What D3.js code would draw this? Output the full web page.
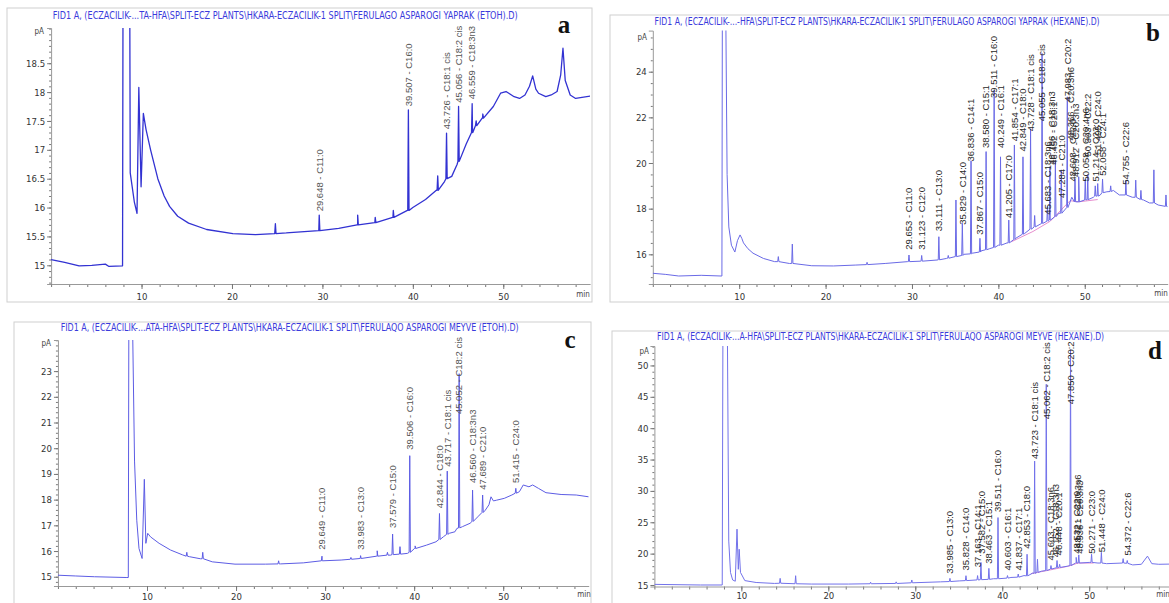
<!DOCTYPE html>
<html lang="en">
<head>
<meta charset="UTF-8">
<title>FID1 chromatograms</title>
<script src="https://cdn.jsdelivr.net/npm/d3@7"></script>
<style>
  body { margin: 0; background: #fff; }
  .tick text { font-family: "Liberation Sans Narrow", "DejaVu Sans Condensed", "Liberation Sans", sans-serif; }
</style>
</head>
<body>
<svg width="1169" height="603"></svg>
<script>
// ---- data (time in min, signal in pA) ----
// a: leaf, EtOH
var aTrace = [[0,15.10],[1.5,15.05],[3.1,14.99],[4.5,15.0],[6.0,15.02],[6.4,14.98],[7.9,14.99],
  [7.95,19.5],[8.7,19.5],[8.75,16.6],[9.2,16.1],[9.5,15.9],[9.7,18.08],[9.95,16.36],[10.2,17.63],
  [10.5,17.35],[11.0,17.0],[11.8,16.5],[12.5,16.2],[13.1,16.02],[14.0,15.85],[15.2,15.73],[17.2,15.62],
  [20.1,15.55],[22.6,15.53],[24.7,15.55],[26,15.56],[27.6,15.58],[29.6,15.6],[31.8,15.64],[33.9,15.7],
  [35.8,15.74],[37.8,15.83],[39.4,15.95],[40,16.0],[41.4,16.14],[42.6,16.3],[43.5,16.45],[44.3,16.54],
  [44.9,16.75],[45.9,17.1],[46.6,17.3],[47.7,17.55],[48.9,17.75],[49.7,17.98],[50.3,18.01],[51.2,17.92],
  [51.8,17.89],[52.4,17.95],[52.9,18.1],[53.25,18.28],[53.6,18.05],[53.9,17.98],[54.7,17.92],[55.3,17.95],
  [55.95,18.01],[56.35,18.3],[56.6,18.76],[56.85,18.2],[57.4,17.95],[58.0,17.89],[59.6,17.93]];
var aPeaks = [[24.8,15.55,15.72],[29.648,15.6,15.87],[33.9,15.7,15.87],[35.84,15.74,15.83],[37.84,15.83,15.95],
  [39.507,15.95,17.69],[42.75,16.3,16.55],[43.726,16.5,17.29],[45.056,16.8,17.75],[46.559,17.3,17.8],
  [47.0,17.42,17.5],[47.74,17.55,17.62]];
var aLabels = [[29.648,"29.648 - C11:0",15.9],[39.507,"39.507 - C16:0",17.72],[43.726,"43.726 - C18:1 cis",17.32],
  [45.056,"45.056 - C18:2 cis",17.78],[46.559,"46.559 - C18:3n3",17.84]];

// b: leaf, hexane
var bTrace = [[0,15.17],[1.5,15.12],[3.0,15.05],[5.6,15.08],[7.9,15.05],[8.0,15.05],[8.05,26.5],[8.45,26.5],
  [8.6,19.5],[8.8,17.2],[9.1,16.4],[9.5,16.1],[9.8,16.6],[10.1,16.85],[10.3,16.7],[10.5,16.5],[11.0,16.25],
  [11.6,16.05],[12.8,15.82],[14.1,15.68],[15.8,15.6],[18.4,15.5],[20.9,15.49],[23.5,15.53],[26.9,15.6],
  [29.5,15.68],[31,15.7],[32.9,15.75],[34,15.82],[35,15.9],[36,16.0],[37,16.05],[38,16.15],[39,16.25],
  [40,16.4],[41,16.5],[42,16.7],[43,16.9],[44,17.15],[45,17.35],[46,17.5],[47,17.8],[48,18.1],[48.5,18.5],
  [49.3,18.3],[50.4,18.38],[51,18.5],[51.8,18.6],[52.56,18.74],[53.3,18.8],[54.0,18.6],[54.7,18.6],
  [55.5,18.5],[56.8,18.38],[57.5,18.25],[58.5,18.16],[59.6,18.09]];
var bPeaks = [[14.53,15.68,15.9],[16.15,15.6,16.45],[24.8,15.55,15.65],[29.653,15.68,15.97],[31.123,15.7,15.95],
  [33.111,15.76,16.77],[34.2,15.83,15.95],[35.09,15.9,18.38],[35.829,15.95,17.36],[36.836,16.02,20.1],
  [37.867,16.1,16.7],[38.58,16.2,20.5],[39.511,16.3,23.2],[40.249,16.4,20.27],[41.205,16.5,17.5],
  [41.854,16.65,20.79],[42.849,16.88,20.27],[43.728,17.1,21.5],[44.2,17.2,17.7],[45.055,17.35,24.8],
  [45.683,17.45,18.1],[45.97,17.5,19.84],[46.6,17.65,20.1],[47.284,17.8,19.7],[47.983,18.05,22.9],
  [48.87,18.3,19.3],[49.3,18.3,19.4],[50.058,18.38,19.3],[50.35,18.4,19.5],[51.214,18.55,19.0],
  [51.5,18.55,19.1],[52.058,18.7,19.3],[53.0,18.75,19.0],[54.755,18.6,19.25],[55.9,18.5,19.25],
  [56.5,18.4,18.8],[58.0,18.25,19.7],[59.4,18.1,18.6]];
var bLabels = [[29.653,"29.653 - C11:0",16.11],[31.123,"31.123 - C12:0",16.11],[33.111,"33.111 - C13:0",16.92],
  [35.829,"35.829 - C14:0",17.21],[36.836,"36.836 - C14:1",19.98],[37.867,"37.867 - C15:0",16.77],
  [38.58,"38.580 - C15:1",20.57],[39.511,"39.511 - C16:0",22.76],[40.249,"40.249 - C16:1",20.57],
  [41.205,"41.205 - C17:0",17.5],[41.854,"41.854 - C17:1",20.86],[42.849,"42.849 - C18:0",20.42],
  [43.728,"43.728 - C18:1 cis",21.3],[45.055,"45.055 - C18:2 cis",21.74],[45.683,"45.683 - C18:3n6",17.65],
  [46.186,"46.186 - C18:3n3",19.84],[46.452,"46.452 - C20:1",19.84],[47.284,"47.284 - C21:0",18.38],
  [47.983,"47.983 - C20:2",22.6],[48.366,"48.366 - C20:3n6",20.9],[48.608,"48.608 - C22:0",19.1],
  [48.912,"48.912 - C20:3n3",19.3],[50.058,"50.058 - C20:4n6",19.1],[50.303,"50.303 - C22:2",20.2],
  [51.214,"51.214 - C23:0",19.1],[51.495,"51.495 - C24:0",20.3],[52.058,"52.058 - C24:1",19.35],
  [54.755,"54.755 - C22:6",18.96]];
var bIntegration = [[41.5,16.55],[44,17.0],[46,17.45],[48.3,18.35],[49.3,18.3],[51.5,18.4]];

// c: fruit, EtOH
var cTrace = [[0,15.06],[2,15.03],[4.1,15.0],[7.74,14.97],[7.9,14.97],[7.96,24.8],[8.38,24.8],[8.6,19.5],
  [8.85,17.2],[9.1,16.1],[9.45,15.71],[9.7,18.79],[9.87,16.3],[10.08,16.69],[10.4,16.55],[11.36,16.3],
  [12.64,16.04],[14.0,15.85],[14.77,15.78],[16,15.7],[17.33,15.58],[19.88,15.49],[23.29,15.49],[25,15.5],
  [27.55,15.54],[29.68,15.62],[31.8,15.65],[33.94,15.71],[35.85,15.8],[37.34,15.84],[39.26,15.91],
  [40.11,16.1],[41.39,16.23],[42.45,16.36],[43.3,16.56],[43.94,16.69],[44.58,16.75],[44.8,16.88],
  [45.43,16.95],[46.28,17.08],[47.14,17.33],[47.99,17.59],[48.4,17.8],[48.63,18.11],[48.9,17.95],
  [49.27,17.98],[50.12,18.05],[50.97,18.18],[51.82,18.31],[52.25,18.57],[52.89,18.5],[53.31,18.57],
  [53.95,18.44],[54.8,18.27],[56.5,18.2],[58.2,18.18],[59.6,18.11]];
var cPeaks = [[14.47,15.8,15.95],[16.26,15.7,15.95],[24.78,15.5,15.62],[29.649,15.62,15.8],[32.9,15.68,15.75],
  [33.983,15.71,15.82],[35.85,15.8,16.01],[37.0,15.84,15.95],[37.579,15.86,16.66],[38.41,15.88,16.17],
  [39.506,15.95,19.71],[40.11,16.1,16.2],[42.844,16.45,17.46],[43.717,16.65,19.11],[45.052,16.9,22.9],
  [46.56,17.15,18.37],[47.689,17.5,18.18],[51.415,18.25,18.44]];
var cLabels = [[29.649,"29.649 - C11:0",15.97],[33.983,"33.983 - C13:0",15.97],[37.579,"37.579 - C15:0",16.82],
  [39.506,"39.506 - C16:0",19.86],[42.844,"42.844 - C18:0",17.59],[43.717,"43.717 - C18:1 cis",19.2],
  [45.052,"45.052 - C18:2 cis",21.25],[46.56,"46.560 - C18:3n3",18.57],[47.689,"47.689 - C21:0",18.31],
  [51.415,"51.415 - C24:0",18.57]];

// d: fruit, hexane
var dTrace = [[0,15.1],[5.3,15.0],[7.8,15.0],[7.88,56],[8.39,56],[8.55,22],[8.75,17.0],[9.0,15.8],[9.3,15.6],
  [9.5,23.9],[9.65,17.5],[9.75,20.7],[9.9,17.0],[10.4,15.7],[11.7,15.4],[13.8,15.25],[18.07,15.15],
  [22.3,15.15],[25,15.2],[28,15.25],[29.5,15.35],[32.9,15.5],[35.05,15.65],[37,15.8],[39,16.0],[41,16.2],
  [42.5,16.5],[43.5,16.9],[44.5,17.2],[45.5,17.5],[46.5,17.8],[47.5,18.0],[48.5,18.6],[50,18.6],[51,18.5],
  [52,18.4],[54,18.5],[55,18.2],[56,18.3],[56.7,19.6],[57.2,18.4],[58,18.3],[59.6,18.34]];
var dPeaks = [[14.46,15.28,16.06],[16.24,15.2,16.48],[24.86,15.2,15.45],[27.8,15.25,15.5],[29.6,15.35,15.8],
  [33.985,15.55,16.06],[35.828,15.7,16.48],[37.163,15.8,16.5],[37.55,15.85,18.6],[38.463,15.9,17.65],
  [39.511,16.0,25.75],[40.603,16.1,16.5],[41.837,16.25,16.75],[42.853,16.45,19.9],[43.723,16.85,34.75],
  [44.05,17.0,19.1],[45.062,17.3,47],[45.603,17.55,18.1],[46.3,17.75,18.9],[46.6,17.8,18.3],
  [47.85,18.1,52.5],[48.5,18.5,19.4],[48.8,18.5,19.8],[50.271,18.6,19.9],[51.4,18.5,20.2],
  [53.9,18.5,19.2],[54.372,18.45,18.9]];
var dLabels = [[33.985,"33.985 - C13:0",16.48],[35.828,"35.828 - C14:0",17.0],[37.163,"37.163 - C14:1",17.5],
  [37.582,"37.582 - C15:0",19.66],[38.463,"38.463 - C15:1",18.07],[39.511,"39.511 - C16:0",26.3],
  [40.603,"40.603 - C16:1",17.0],[41.837,"41.837 - C17:1",17.0],[42.853,"42.853 - C18:0",20.45],
  [43.723,"43.723 - C18:1 cis",34.75],[45.062,"45.062 - C18:2 cis",41.1],[45.603,"45.603 - C18:3n6",18.6],
  [46.152,"46.152 - C18:3n3",19.1],[46.448,"46.448 - C20:1",19.4],[47.85,"47.850 - C20:2",43.5],
  [48.532,"48.532 - C22:0",19.66],[48.721,"48.721 - C20:3n6",20.6],[48.936,"48.936 - C20:3n3",19.66],
  [50.271,"50.271 - C23:0",19.66],[51.448,"51.448 - C24:0",19.9],[54.372,"54.372 - C22:6",19.4]];
var dIntegration = [[43.3,16.8],[45.5,17.4],[47.6,18.0],[48.7,18.5],[50.5,18.5]];

var titles = [
  "FID1 A,  (ECZACILIK-...TA-HFA\\SPLIT-ECZ PLANTS\\HKARA-ECZACILIK-1 SPLIT\\FERULAGO ASPAROGI YAPRAK (ETOH).D)",
  "FID1 A,  (ECZACILIK-...-HFA\\SPLIT-ECZ PLANTS\\HKARA-ECZACILIK-1 SPLIT\\FERULAGO ASPAROGI YAPRAK (HEXANE).D)",
  "FID1 A,  (ECZACILIK-...ATA-HFA\\SPLIT-ECZ PLANTS\\HKARA-ECZACILIK-1 SPLIT\\FERULAQO ASPAROGI MEYVE (ETOH).D)",
  "FID1 A,  (ECZACILIK-...A-HFA\\SPLIT-ECZ PLANTS\\HKARA-ECZACILIK-1 SPLIT\\FERULAQO ASPAROGI MEYVE (HEXANE).D)"
];
var letters = ["a", "b", "c", "d"];
var xTicks = [10, 20, 30, 40, 50];
var yTicksA = [15, 15.5, 16, 16.5, 17, 17.5, 18, 18.5];
var yTicksB = [16, 18, 20, 22, 24];
var yTicksC = [15, 16, 17, 18, 19, 20, 21, 22, 23];
var yTicksD = [15, 20, 25, 30, 35, 40, 45, 50];

// ---- layout of the four panels ----
var panels = [
  {frame:[7,8,585,294], x:[51.1,590.1], y:[284,28], yDom:[14.676,19.11], yt:yTicksA, ym:0.1, pad:4,
   trace:aTrace, peaks:aPeaks, labels:aLabels, col:"#3232d2", lw:1.3, labCol:"#555",
   title:[52.7,18.5,466], letter:[564,33], pA:[44,34], min:[583,297]},
  {frame:[610,15,570,287], x:[652.8,1167.7], y:[284,30.6], yDom:[14.7,25.8], yt:yTicksB, ym:0.5, pad:4,
   trace:bTrace, peaks:bPeaks, labels:bLabels, integ:bIntegration, col:"#6a6ae6", lw:1, labCol:"#2a2a2a",
   title:[654.6,24.5,446], letter:[1153,41], pA:[647,40], min:[1161,296]},
  {frame:[14,322,577,290], x:[57.95,588.7], y:[586,340], yDom:[14.64,24.21], yt:yTicksC, ym:0.2, pad:2,
   trace:cTrace, peaks:cPeaks, labels:cLabels, col:"#5c5ce4", lw:1, labCol:"#555",
   title:[60.7,331,459], letter:[570,348], pA:[51,346], min:[584,597]},
  {frame:[612,331,570,280], x:[654.4,1172.7], y:[586.5,346], yDom:[14.76,53.1], yt:yTicksD, ym:1, pad:1,
   trace:dTrace, peaks:dPeaks, labels:dLabels, integ:dIntegration, col:"#7272ea", lw:1, labCol:"#2a2a2a",
   title:[657,339.5,448], letter:[1155,359], pA:[649,354], min:[1163,597]}
];

var svg = d3.select("svg");
var defs = svg.append("defs");
var narrow = "'Liberation Sans Narrow','DejaVu Sans Condensed',sans-serif";

panels.forEach(function(p, i) {
  var g = svg.append("g");
  var x = d3.scaleLinear().domain([0, 59.6]).range(p.x);
  var y = d3.scaleLinear().domain(p.yDom).range(p.y);

  // frame
  g.append("rect")
    .attr("x", p.frame[0]).attr("y", p.frame[1])
    .attr("width", p.frame[2]).attr("height", p.frame[3])
    .attr("fill", "#fff").attr("stroke", "#cfcfcf").attr("stroke-width", 1);

  // title, squeezed horizontally to the width it has in the reference
  var tt = g.append("text")
    .style("font-family", narrow)
    .style("font-size", "10.5px").style("fill", "#3b3bdc")
    .text(titles[i]);
  var natural = tt.node().getComputedTextLength();
  tt.attr("transform", "translate(" + p.title[0] + "," + p.title[1] + ") scale(" + (p.title[2] / natural) + ",1)");

  // panel letter
  g.append("text")
    .attr("x", p.letter[0]).attr("y", p.letter[1])
    .attr("text-anchor", "middle")
    .style("font-family", "'Liberation Serif','DejaVu Serif',serif")
    .style("font-weight", "bold").style("font-size", "25px").style("fill", "#111")
    .text(letters[i]);

  // axes
  var yMinor = d3.range(Math.ceil(p.yDom[0] / p.ym) * p.ym, p.yDom[1], p.ym);
  var xMinor = d3.range(0, 60, 2);
  var axG = g.append("g").attr("color", "#777");
  axG.append("g").attr("transform", "translate(" + p.x[0] + ",0)")
    .call(d3.axisLeft(y).tickValues(yMinor).tickSize(2).tickFormat(""))
    .call(function(s) { s.select(".domain").remove(); });
  axG.append("g").attr("transform", "translate(" + p.x[0] + ",0)")
    .call(d3.axisLeft(y).tickValues(p.yt).tickSize(4).tickPadding(2).tickFormat(d3.format("")))
    .call(function(s) {
      s.select(".domain").attr("stroke", "#999");
      s.selectAll("text").style("font-size", "9.5px").style("fill", "#333");
    });
  axG.append("g").attr("transform", "translate(0," + p.y[0] + ")")
    .call(d3.axisBottom(x).tickValues(xMinor).tickSize(3).tickFormat(""))
    .call(function(s) { s.select(".domain").remove(); });
  axG.append("g").attr("transform", "translate(0," + p.y[0] + ")")
    .call(d3.axisBottom(x).tickValues(xTicks).tickSize(5).tickSizeOuter(0).tickPadding(p.pad))
    .call(function(s) {
      s.select(".domain").attr("stroke", "#999");
      s.selectAll("text").style("font-size", "9.5px").style("fill", "#333");
    });

  g.append("text").attr("x", p.pA[0]).attr("y", p.pA[1]).attr("text-anchor", "end")
    .style("font-family", narrow)
    .style("font-size", "8px").style("fill", "#444").text("pA");
  g.append("text").attr("x", p.min[0]).attr("y", p.min[1]).attr("text-anchor", "middle")
    .style("font-family", narrow)
    .style("font-size", "8px").style("fill", "#444").text("min");

  // clip to plot area
  var cid = "clip" + letters[i];
  defs.append("clipPath").attr("id", cid).append("rect")
    .attr("x", p.x[0]).attr("y", p.y[1])
    .attr("width", p.x[1] - p.x[0]).attr("height", p.y[0] - p.y[1]);

  // build trace: baseline points + narrow peaks
  var pts = p.trace.slice();
  p.peaks.forEach(function(k) {
    pts.push([k[0] - 0.07, k[1]], [k[0], k[2]], [k[0] + 0.07, k[1]]);
  });
  pts.sort(function(u, v) { return u[0] - v[0]; });

  var line = d3.line().x(function(d) { return x(d[0]); }).y(function(d) { return y(d[1]); });
  var plot = g.append("g").attr("clip-path", "url(#" + cid + ")");

  if (p.integ) {
    plot.append("path").datum(p.integ).attr("d", line)
      .attr("fill", "none").attr("stroke", "#e070c0").attr("stroke-width", 0.8);
  }
  plot.append("path").datum(pts).attr("d", line)
    .attr("fill", "none").attr("stroke", p.col).attr("stroke-width", p.lw)
    .attr("stroke-linejoin", "round");

  // peak labels, rotated, starting just above the apex (not clipped)
  g.selectAll("text.lab").data(p.labels).enter().append("text")
    .attr("class", "lab")
    .attr("transform", function(d) { return "translate(" + x(d[0]) + "," + (y(d[2]) - 2) + ") rotate(-90)"; })
    .attr("dy", "0.35em")
    .style("font-family", "'Liberation Sans','Arial',sans-serif")
    .style("font-size", "9.5px").style("fill", p.labCol)
    .text(function(d) { return d[1]; });
});
</script>
</body>
</html>
